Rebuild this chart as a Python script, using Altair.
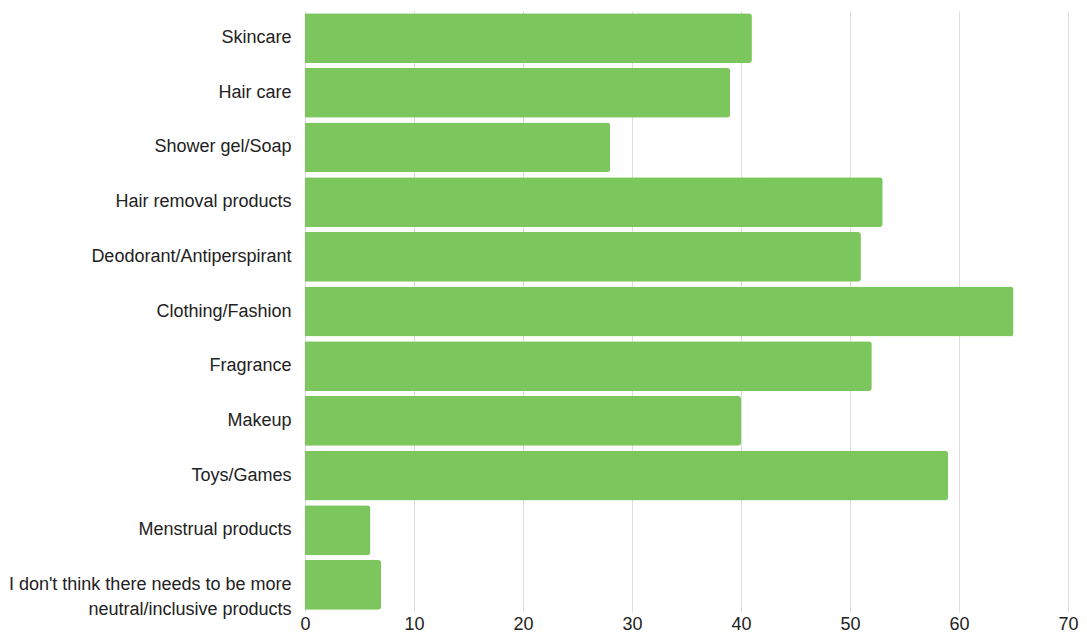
import altair as alt
import pandas as pd

categories = [
    "Skincare",
    "Hair care",
    "Shower gel/Soap",
    "Hair removal products",
    "Deodorant/Antiperspirant",
    "Clothing/Fashion",
    "Fragrance",
    "Makeup",
    "Toys/Games",
    "Menstrual products",
    "I don't think there needs to be more|neutral/inclusive products",
]
values = [41, 39, 28, 53, 51, 65, 52, 40, 59, 6, 7]
x_ticks = [0, 10, 20, 30, 40, 50, 60, 70]

df = pd.DataFrame({"category": categories, "value": values})

FONT = "Liberation Sans, Arial, Helvetica, sans-serif"

chart = (
    alt.Chart(df)
    .mark_bar(color="#7CC65E", cornerRadiusEnd=3)
    .encode(
        y=alt.Y(
            "category:N",
            sort=categories,
            title=None,
            scale=alt.Scale(paddingInner=0.09, paddingOuter=0.04),
            axis=alt.Axis(
                ticks=False,
                domain=False,
                labelPadding=14,
                labelFontSize=18,
                labelColor="#222222",
                labelFont=FONT,
                labelLimit=400,
                labelLineHeight=25,
                labelExpr="split(datum.value, '|')",
                minExtent=296,
                maxExtent=296,
            ),
        ),
        x=alt.X(
            "value:Q",
            title=None,
            scale=alt.Scale(domain=[0, 70], nice=False),
            axis=alt.Axis(
                values=x_ticks,
                ticks=False,
                domain=False,
                grid=True,
                gridColor="#dddddd",
                gridWidth=1,
                labelPadding=3,
                labelFontSize=18,
                labelColor="#222222",
                labelFont=FONT,
                labelFlush=False,
            ),
        ),
    )
    .properties(
        width=1071,
        height=625,
        padding={"left": 0, "top": 3, "right": 0, "bottom": 0},
        autosize=alt.AutoSizeParams(type="fit", contains="padding"),
    )
    .configure_view(stroke=None)
)

chart.save("out.html", embed_options={"renderer": "svg", "actions": False})
